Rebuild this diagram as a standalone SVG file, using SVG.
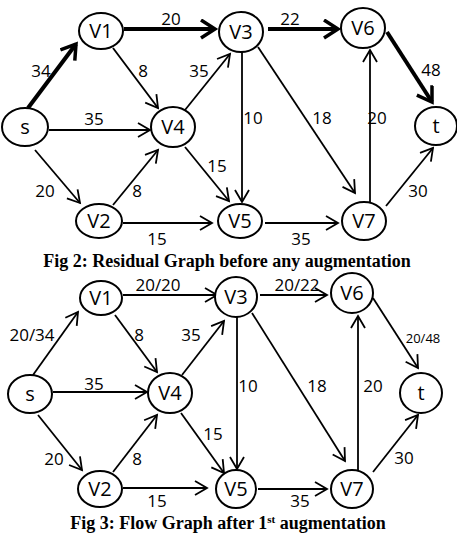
<svg xmlns="http://www.w3.org/2000/svg" width="457" height="533" viewBox="0 0 457 533">
<style>
.node ellipse{fill:#fff;stroke:#000;stroke-width:2}
.node text{font-family:"Open Sans","Noto Sans",sans-serif;font-size:20px;text-anchor:middle;fill:#000}
.e{stroke:#000;stroke-width:1.8;fill:none;marker-end:url(#a)}
.e.b{stroke-width:4;marker-end:url(#ab)}
.lbl{font-family:"Open Sans","Noto Sans",sans-serif;font-size:17px;text-anchor:middle;fill:#000}
.sm{font-size:13px}
.cap{font-family:"Liberation Serif","Times New Roman",serif;font-weight:bold;font-size:18px;text-anchor:middle;fill:#000}
</style>
<defs>
<marker id="a" markerUnits="userSpaceOnUse" markerWidth="20" markerHeight="20" refX="13" refY="8" orient="auto" viewBox="0 0 20 20">
<path d="M1,1 L13,8 L1,15" fill="none" stroke="#000" stroke-width="1.8"/>
</marker>
<marker id="ab" markerUnits="userSpaceOnUse" markerWidth="24" markerHeight="24" refX="15" refY="10" orient="auto" viewBox="0 0 24 24">
<path d="M1,1 L15,10 L1,19" fill="none" stroke="#000" stroke-width="3.5"/>
</marker>
</defs>
<g id="connectors">
<line class="e b" x1="28" y1="108" x2="76" y2="44"/>
<line class="e b" x1="124" y1="29" x2="215" y2="29"/>
<line class="e" x1="113" y1="48" x2="158" y2="108"/>
<line class="e" x1="185" y1="110" x2="230" y2="54"/>
<line class="e" x1="49" y1="130" x2="150" y2="130"/>
<line class="e b" x1="268" y1="29" x2="338" y2="29"/>
<line class="e b" x1="387" y1="32" x2="432" y2="102"/>
<line class="e" x1="242" y1="52" x2="242" y2="202"/>
<line class="e" x1="258" y1="47" x2="355" y2="193"/>
<line class="e" x1="370" y1="202" x2="370" y2="50"/>
<line class="e" x1="386" y1="206" x2="433" y2="148"/>
<line class="e" x1="185" y1="147" x2="229" y2="201"/>
<line class="e" x1="35" y1="150" x2="80" y2="203"/>
<line class="e" x1="113" y1="205" x2="158" y2="150"/>
<line class="e" x1="123" y1="223" x2="212" y2="223"/>
<line class="e" x1="265" y1="223" x2="338" y2="223"/>
<line class="e" x1="33" y1="375" x2="78" y2="312"/>
<line class="e" x1="123" y1="295" x2="217" y2="295"/>
<line class="e" x1="115" y1="315" x2="157" y2="372"/>
<line class="e" x1="182" y1="375" x2="224" y2="321"/>
<line class="e" x1="53" y1="392" x2="147" y2="392"/>
<line class="e" x1="260" y1="295" x2="327" y2="295"/>
<line class="e" x1="373" y1="298" x2="418" y2="368"/>
<line class="e" x1="237" y1="317" x2="237" y2="469"/>
<line class="e" x1="252" y1="313" x2="345" y2="461"/>
<line class="e" x1="358" y1="472" x2="358" y2="316"/>
<line class="e" x1="373" y1="472" x2="418" y2="415"/>
<line class="e" x1="181" y1="413" x2="224" y2="473"/>
<line class="e" x1="38" y1="415" x2="82" y2="470"/>
<line class="e" x1="113" y1="472" x2="157" y2="415"/>
<line class="e" x1="123" y1="488" x2="207" y2="488"/>
<line class="e" x1="258" y1="489" x2="327" y2="489"/>
</g>
<g id="labels">
<text class="lbl" x="171" y="25">20</text>
<text class="lbl" x="41" y="77">34</text>
<text class="lbl" x="143" y="77">8</text>
<text class="lbl" x="199" y="77">35</text>
<text class="lbl" x="94" y="125">35</text>
<text class="lbl" x="290" y="25">22</text>
<text class="lbl" x="431" y="76">48</text>
<text class="lbl" x="253" y="124">10</text>
<text class="lbl" x="322" y="124">18</text>
<text class="lbl" x="377" y="124">20</text>
<text class="lbl" x="217" y="172">15</text>
<text class="lbl" x="45" y="197">20</text>
<text class="lbl" x="137" y="197">8</text>
<text class="lbl" x="157" y="245">15</text>
<text class="lbl" x="301" y="245">35</text>
<text class="lbl" x="418" y="197">30</text>
<text class="lbl" x="158" y="291">20/20</text>
<text class="lbl" x="32" y="341">20/34</text>
<text class="lbl" x="139" y="341">8</text>
<text class="lbl" x="191" y="341">35</text>
<text class="lbl" x="94" y="390">35</text>
<text class="lbl" x="297" y="291">20/22</text>
<text class="lbl sm" x="423" y="343">20/48</text>
<text class="lbl" x="248" y="392">10</text>
<text class="lbl" x="317" y="392">18</text>
<text class="lbl" x="373" y="392">20</text>
<text class="lbl" x="213" y="440">15</text>
<text class="lbl" x="54" y="465">20</text>
<text class="lbl" x="137" y="465">8</text>
<text class="lbl" x="157" y="507">15</text>
<text class="lbl" x="300" y="507">35</text>
<text class="lbl" x="404" y="464">30</text>
</g>
<g id="fig2-s" class="node"><ellipse cx="25" cy="127" rx="23" ry="19"/><text x="25" y="134">s</text></g>
<g id="fig2-V1" class="node"><ellipse cx="101" cy="31" rx="22" ry="18"/><text x="101" y="38">V1</text></g>
<g id="fig2-V2" class="node"><ellipse cx="99" cy="221" rx="23" ry="17"/><text x="99" y="228">V2</text></g>
<g id="fig2-V3" class="node"><ellipse cx="241" cy="32" rx="22" ry="20"/><text x="241" y="39">V3</text></g>
<g id="fig2-V4" class="node"><ellipse cx="173" cy="127" rx="22" ry="20"/><text x="173" y="134">V4</text></g>
<g id="fig2-V5" class="node"><ellipse cx="240" cy="221" rx="22" ry="17"/><text x="240" y="228">V5</text></g>
<g id="fig2-V6" class="node"><ellipse cx="363" cy="28" rx="22" ry="20"/><text x="363" y="35">V6</text></g>
<g id="fig2-V7" class="node"><ellipse cx="364" cy="221" rx="22" ry="19"/><text x="364" y="228">V7</text></g>
<g id="fig2-t" class="node"><ellipse cx="436" cy="126" rx="21" ry="19"/><text x="436" y="133">t</text></g>
<g id="fig3-s" class="node"><ellipse cx="30" cy="394" rx="22" ry="19"/><text x="30" y="401">s</text></g>
<g id="fig3-V1" class="node"><ellipse cx="101" cy="298" rx="21" ry="17"/><text x="101" y="305">V1</text></g>
<g id="fig3-V2" class="node"><ellipse cx="100" cy="489" rx="22" ry="18"/><text x="100" y="496">V2</text></g>
<g id="fig3-V3" class="node"><ellipse cx="236" cy="297" rx="21" ry="20"/><text x="236" y="304">V3</text></g>
<g id="fig3-V4" class="node"><ellipse cx="170" cy="393" rx="22" ry="20"/><text x="170" y="400">V4</text></g>
<g id="fig3-V5" class="node"><ellipse cx="236" cy="489" rx="20" ry="19"/><text x="236" y="496">V5</text></g>
<g id="fig3-V6" class="node"><ellipse cx="352" cy="293" rx="21" ry="20"/><text x="352" y="300">V6</text></g>
<g id="fig3-V7" class="node"><ellipse cx="352" cy="489" rx="21" ry="19"/><text x="352" y="496">V7</text></g>
<g id="fig3-t" class="node"><ellipse cx="421" cy="393" rx="21" ry="20"/><text x="421" y="400">t</text></g>
<g id="captions">
<text class="cap" x="227" y="267">Fig 2: Residual Graph before any augmentation</text>
<text class="cap" x="228" y="529">Fig 3: Flow Graph after 1<tspan font-size="11" dy="-6">st</tspan><tspan dy="6"> augmentation</tspan></text>
</g>
</svg>
